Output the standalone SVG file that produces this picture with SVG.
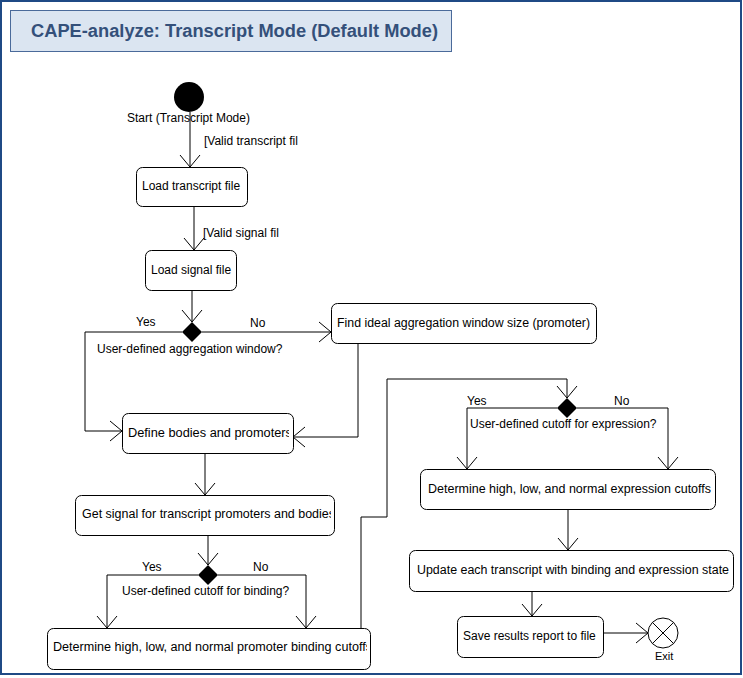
<svg xmlns="http://www.w3.org/2000/svg" width="743" height="678" viewBox="0 0 743 678">
<style>
  .box{fill:#ffffff;stroke:#000000;stroke-width:1}
  .t{font-family:"Liberation Sans",Arial,sans-serif;font-size:12px;fill:#000000}
  .small{font-family:"Liberation Sans",Arial,sans-serif;font-size:11px;fill:#000000}
  .title{font-family:"Liberation Sans",Arial,sans-serif;font-size:18px;font-weight:bold;fill:#34507a}
  .conn path{fill:none;stroke:#000000;stroke-width:1;marker-end:url(#arr)}
  .dia{fill:#000000}
</style>
<defs>
  <marker id="arr" markerUnits="userSpaceOnUse" markerWidth="24" markerHeight="24" viewBox="-14 -12 16 24" refX="0" refY="0" orient="auto">
    <path d="M-12,-10 L0,0 L-12,10" fill="none" stroke="#000000" stroke-width="1"/>
  </marker>
  <clipPath id="c5"><rect x="122" y="413" width="167" height="40"/></clipPath>
  <clipPath id="c6"><rect x="75" y="495" width="256" height="40"/></clipPath>
  <clipPath id="c7"><rect x="47" y="628" width="320" height="41"/></clipPath>
  <clipPath id="c8"><rect x="420" y="469" width="291" height="40"/></clipPath>
  <clipPath id="c9"><rect x="409" y="550" width="320" height="41"/></clipPath>
</defs>
<rect x="0" y="0" width="743" height="678" fill="#ffffff"/>
<rect x="1" y="1" width="740" height="673" fill="none" stroke="#1f4a85" stroke-width="2"/>
<g id="title">
  <rect x="10.5" y="10.5" width="441" height="41" fill="#dbe5f1" stroke="#4a6a9a" stroke-width="1"/>
  <text class="title" x="31" y="37" textLength="407" lengthAdjust="spacingAndGlyphs">CAPE-analyze: Transcript Mode (Default Mode)</text>
</g>
<g id="connectors" class="conn">
  <path d="M190,112 L190,167"/>
  <path d="M194,206 L194,250"/>
  <path d="M192,290 L192,322"/>
  <path d="M182,332 L85,332 L85,431 L122,431"/>
  <path d="M202,332 L331,332"/>
  <path d="M358,343 L358,437 L293,437"/>
  <path d="M205,453 L205,495"/>
  <path d="M208,535 L208,565"/>
  <path d="M198,575 L107,575 L107,628"/>
  <path d="M218,575 L306,575 L306,628"/>
  <path d="M361,628 L361,517 L387,517 L387,379 L567,379 L567,398"/>
  <path d="M557,408 L467,408 L467,469"/>
  <path d="M577,408 L668,408 L668,469"/>
  <path d="M568,509 L568,550"/>
  <path d="M532,591 L532,616"/>
  <path d="M603,633 L648,633"/>
</g>
<g id="labels">
  <text class="t" x="204" y="145">[Valid transcript fil</text>
  <text class="t" x="203" y="237">[Valid signal fil</text>
  <text class="t" x="136" y="326">Yes</text>
  <text class="t" x="250" y="327">No</text>
  <text class="t" x="97" y="353">User-defined aggregation window?</text>
  <text class="t" x="142" y="571">Yes</text>
  <text class="t" x="253" y="571">No</text>
  <text class="t" x="122" y="595">User-defined cutoff for binding?</text>
  <text class="t" x="467" y="405">Yes</text>
  <text class="t" x="614" y="405">No</text>
  <text class="t" x="470" y="428">User-defined cutoff for expression?</text>
</g>
<g id="start">
  <circle cx="189" cy="97" r="15" fill="#000000"/>
  <text class="t" x="127" y="122">Start (Transcript Mode)</text>
</g>
<g id="load-transcript">
  <rect class="box" x="136.5" y="167.5" width="111" height="39" rx="6"/>
  <text class="t" x="142" y="190">Load transcript file</text>
</g>
<g id="load-signal">
  <rect class="box" x="145.5" y="250.5" width="91" height="40" rx="6"/>
  <text class="t" x="151" y="274">Load signal file</text>
</g>
<g id="decision-aggregation">
  <polygon class="dia" points="192,322 202,332 192,342 182,332"/>
</g>
<g id="find-window">
  <rect class="box" x="331.5" y="303.5" width="265" height="40" rx="6"/>
  <text class="t" x="337" y="327" textLength="253" lengthAdjust="spacingAndGlyphs">Find ideal aggregation window size (promoter)</text>
</g>
<g id="define-bodies">
  <rect class="box" x="122.5" y="413.5" width="171" height="40" rx="6"/>
  <text class="t" x="128" y="437" clip-path="url(#c5)" textLength="164" lengthAdjust="spacingAndGlyphs">Define bodies and promoters</text>
</g>
<g id="get-signal">
  <rect class="box" x="75.5" y="495.5" width="259" height="40" rx="6"/>
  <text class="t" x="82" y="518" clip-path="url(#c6)" textLength="253" lengthAdjust="spacingAndGlyphs">Get signal for transcript promoters and bodies</text>
</g>
<g id="decision-binding">
  <polygon class="dia" points="208,565 218,575 208,585 198,575"/>
</g>
<g id="binding-cutoffs">
  <rect class="box" x="47.5" y="628.5" width="323" height="41" rx="6"/>
  <text class="t" x="53" y="651" clip-path="url(#c7)" textLength="319" lengthAdjust="spacingAndGlyphs">Determine high, low, and normal promoter binding cutoffs</text>
</g>
<g id="decision-expression">
  <polygon class="dia" points="567,398 577,408 567,418 557,408"/>
</g>
<g id="expression-cutoffs">
  <rect class="box" x="420.5" y="469.5" width="295" height="40" rx="6"/>
  <text class="t" x="428" y="493" clip-path="url(#c8)" textLength="283" lengthAdjust="spacingAndGlyphs">Determine high, low, and normal expression cutoffs</text>
</g>
<g id="update-transcripts">
  <rect class="box" x="409.5" y="550.5" width="324" height="41" rx="6"/>
  <text class="t" x="417" y="574" clip-path="url(#c9)" textLength="312" lengthAdjust="spacingAndGlyphs">Update each transcript with binding and expression state</text>
</g>
<g id="save-results">
  <rect class="box" x="457.5" y="616.5" width="146" height="41" rx="6"/>
  <text class="t" x="463" y="640">Save results report to file</text>
</g>
<g id="exit">
  <circle cx="663" cy="633" r="15" fill="#ffffff" stroke="#000000" stroke-width="1"/>
  <path d="M652.4,622.4 L673.6,643.6 M673.6,622.4 L652.4,643.6" stroke="#000000" stroke-width="1" fill="none"/>
  <text class="small" x="655" y="660">Exit</text>
</g>
</svg>
